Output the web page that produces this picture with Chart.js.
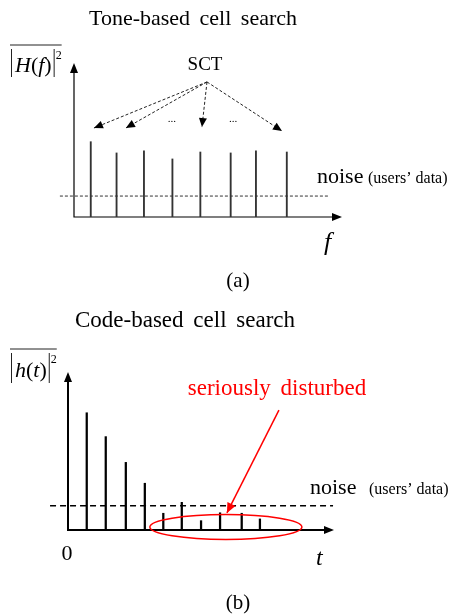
<!DOCTYPE html>
<html>
<head>
<meta charset="utf-8">
<script src="https://cdn.jsdelivr.net/npm/chart.js@4.4.1/dist/chart.umd.min.js"></script>
<style>
html, body { margin: 0; padding: 0; background: #fff; }
#wrap { position: relative; width: 460px; height: 616px; }
canvas { position: absolute; left: 0; }
</style>
</head>
<body>
<div id="wrap">
  <canvas id="tone" width="460" height="300" style="top:0"></canvas>
  <canvas id="code" width="460" height="316" style="top:300px"></canvas>
</div>
<script>
// (a) tone-based: spike positions along f and their power
const toneFreq = [0.63, 1.6, 2.63, 3.7, 4.75, 5.89, 6.84, 8.0];
const tonePower = [4.89, 4.16, 4.29, 3.77, 4.22, 4.16, 4.29, 4.22];
const toneNoiseX = [-0.53, 9.62];
const toneNoiseLevel = 1.36;

// (b) code-based: channel taps along t
const codeTime = [0.71, 1.43, 2.19, 2.91, 3.61, 4.31, 5.04, 5.76, 6.58, 7.27];
const codePower = [7.42, 5.91, 4.28, 2.96, 1.06, 1.75, 0.59, 1.09, 1.06, 0.70];
const codeNoiseX = [-0.68, 10.04];
const codeNoiseLevel = 1.54;

const SERIF = '"Liberation Serif", "Times New Roman", serif';

function head(ctx, x1, y1, x2, y2, len, half) {
  const a = Math.atan2(y2 - y1, x2 - x1);
  ctx.beginPath();
  ctx.moveTo(x2, y2);
  ctx.lineTo(x2 - len * Math.cos(a) + half * Math.sin(a), y2 - len * Math.sin(a) - half * Math.cos(a));
  ctx.lineTo(x2 - len * Math.cos(a) - half * Math.sin(a), y2 - len * Math.sin(a) + half * Math.cos(a));
  ctx.closePath();
  ctx.fill();
}

function text(ctx, s, x, y, size, opts) {
  opts = opts || {};
  ctx.font = (opts.italic ? 'italic ' : '') + size + 'px ' + SERIF;
  ctx.fillStyle = opts.color || '#000';
  ctx.textAlign = opts.align || 'left';
  ctx.textBaseline = 'alphabetic';
  if ('wordSpacing' in ctx) ctx.wordSpacing = opts.ws || '0px';
  ctx.fillText(s, x, y);
  if ('wordSpacing' in ctx) ctx.wordSpacing = '0px';
}

// |X(y)|^2 with overline
function powerLabel(ctx, parts, x, base, top, bottom, size) {
  let cx = x + 5;
  parts.forEach(p => {
    ctx.font = (p[1] ? 'italic ' : '') + size + 'px ' + SERIF;
    ctx.fillStyle = '#000';
    ctx.textAlign = 'left';
    ctx.fillText(p[0], cx, base);
    cx += ctx.measureText(p[0]).width;
  });
  ctx.strokeStyle = '#222';
  ctx.lineWidth = 1;
  ctx.beginPath();
  ctx.moveTo(x + 1.5, top + 4); ctx.lineTo(x + 1.5, bottom);
  ctx.moveTo(cx + 2.5, top + 4); ctx.lineTo(cx + 2.5, bottom);
  ctx.moveTo(x, top); ctx.lineTo(cx + 10, top);
  ctx.stroke();
  text(ctx, '2', cx + 4, top + 14, 12);
}

function axes(chart, w) {
  const ctx = chart.ctx, a = chart.chartArea;
  ctx.save();
  ctx.strokeStyle = '#000';
  ctx.fillStyle = '#000';
  ctx.lineWidth = w;
  ctx.beginPath();
  ctx.moveTo(a.left, a.top + 8);
  ctx.lineTo(a.left, a.bottom);
  ctx.lineTo(a.right - 8, a.bottom);
  ctx.stroke();
  head(ctx, a.left, a.bottom, a.left, a.top, 10, 4);
  head(ctx, a.left, a.bottom, a.right + 2, a.bottom, 10, 4);
  ctx.restore();
}

function baseOptions(ymax) {
  return {
    responsive: false,
    animation: false,
    events: [],
    layout: { padding: 0 },
    plugins: { legend: { display: false }, tooltip: { enabled: false } },
    scales: {
      x: { type: 'linear', min: 0, max: 10, offset: false, display: false },
      y: { type: 'linear', min: 0, max: ymax, display: false }
    }
  };
}

const toneDecor = {
  id: 'toneDecor',
  beforeDatasetsDraw(chart) { axes(chart, 1.2); },
  afterDraw(chart) {
    const ctx = chart.ctx, xs = chart.scales.x, ys = chart.scales.y;
    const P = (u, v) => [xs.getPixelForValue(u), ys.getPixelForValue(v)];
    ctx.save();
    text(ctx, 'Tone-based cell search', 193, 25, 22, { align: 'center', ws: '4px' });
    powerLabel(ctx, [['H', 1], ['(', 0], ['f', 1], [')', 0]], 10, 72, 45, 77, 22);
    text(ctx, 'SCT', 205, 70, 19, { align: 'center' });
    // dashed arrows from SCT to the tones
    const from = P(5.0, 8.77);
    const tips = [[0.75, 5.78], [1.95, 5.78], [4.81, 5.84], [7.82, 5.58]];
    ctx.strokeStyle = '#222';
    ctx.fillStyle = '#000';
    ctx.lineWidth = 1;
    tips.forEach(t => {
      const to = P(t[0], t[1]);
      ctx.setLineDash([3, 2]);
      ctx.beginPath();
      ctx.moveTo(from[0], from[1]);
      ctx.lineTo(to[0], to[1]);
      ctx.stroke();
      ctx.setLineDash([]);
      head(ctx, from[0], from[1], to[0], to[1], 9, 4);
    });
    const d1 = P(3.68, 6.17), d2 = P(5.98, 6.17);
    text(ctx, '...', d1[0], d1[1], 11, { align: 'center' });
    text(ctx, '...', d2[0], d2[1], 11, { align: 'center' });
    text(ctx, 'noise', 317, 183, 22);
    text(ctx, '(users\u2019 data)', 368, 183, 16);
    text(ctx, 'f', 324, 250, 26, { italic: true });
    text(ctx, '(a)', 238, 287, 21, { align: 'center' });
    ctx.restore();
  }
};

const codeDecor = {
  id: 'codeDecor',
  beforeDatasetsDraw(chart) { axes(chart, 2); },
  afterDraw(chart) {
    const ctx = chart.ctx, xs = chart.scales.x, ys = chart.scales.y;
    const P = (u, v) => [xs.getPixelForValue(u), ys.getPixelForValue(v)];
    ctx.save();
    text(ctx, 'Code-based cell search', 185, 27, 23, { align: 'center', ws: '4px' });
    powerLabel(ctx, [['h', 1], ['(', 0], ['t', 1], [')', 0]], 10, 77, 49, 83, 22);
    text(ctx, 'seriously disturbed', 277, 95, 23, { align: 'center', color: '#ff0000', ws: '4px' });
    // red ellipse round the weak taps
    const c = P(5.98, 0.19);
    const rx = xs.getPixelForValue(2.88) - xs.getPixelForValue(0);
    const ry = ys.getPixelForValue(0) - ys.getPixelForValue(0.79);
    ctx.strokeStyle = '#ff0000';
    ctx.fillStyle = '#ff0000';
    ctx.lineWidth = 1.5;
    ctx.beginPath();
    ctx.ellipse(c[0], c[1], rx, ry, 0, 0, Math.PI * 2);
    ctx.stroke();
    const a0 = P(7.99, 7.59), a1 = P(6.02, 1.08);
    ctx.beginPath();
    ctx.moveTo(a0[0], a0[1]);
    ctx.lineTo(a1[0], a1[1]);
    ctx.stroke();
    head(ctx, a0[0], a0[1], a1[0], a1[1], 10, 4.5);
    text(ctx, 'noise', 310, 194, 22);
    text(ctx, '(users\u2019 data)', 369, 194, 16);
    text(ctx, '0', 67, 260, 22, { align: 'center' });
    text(ctx, 't', 316, 265, 24, { italic: true });
    text(ctx, '(b)', 238, 309, 21, { align: 'center' });
    ctx.restore();
  }
};

const toneOpts = baseOptions(10);
toneOpts.layout.padding = { left: 74, right: 120, top: 63, bottom: 83 };
new Chart(document.getElementById('tone'), {
  type: 'bar',
  data: {
    datasets: [{
      type: 'bar',
      data: toneFreq.map((f, i) => ({ x: f, y: tonePower[i] })),
      backgroundColor: '#333',
      barThickness: 1.2
    }, {
      type: 'line',
      data: toneNoiseX.map(x => ({ x: x, y: toneNoiseLevel })),
      borderColor: '#333',
      borderWidth: 1,
      borderDash: [3, 2],
      pointRadius: 0,
      clip: false
    }]
  },
  options: toneOpts,
  plugins: [toneDecor]
});

const codeOpts = baseOptions(10);
codeOpts.layout.padding = { left: 68, right: 128, top: 72, bottom: 86 };
new Chart(document.getElementById('code'), {
  type: 'bar',
  data: {
    datasets: [{
      type: 'bar',
      data: codeTime.map((t, i) => ({ x: t, y: codePower[i] })),
      backgroundColor: '#000',
      barThickness: 1.6
    }, {
      type: 'line',
      data: codeNoiseX.map(x => ({ x: x, y: codeNoiseLevel })),
      borderColor: '#000',
      borderWidth: 1.5,
      borderDash: [6, 4],
      pointRadius: 0,
      clip: false
    }]
  },
  options: codeOpts,
  plugins: [codeDecor]
});
</script>
</body>
</html>
